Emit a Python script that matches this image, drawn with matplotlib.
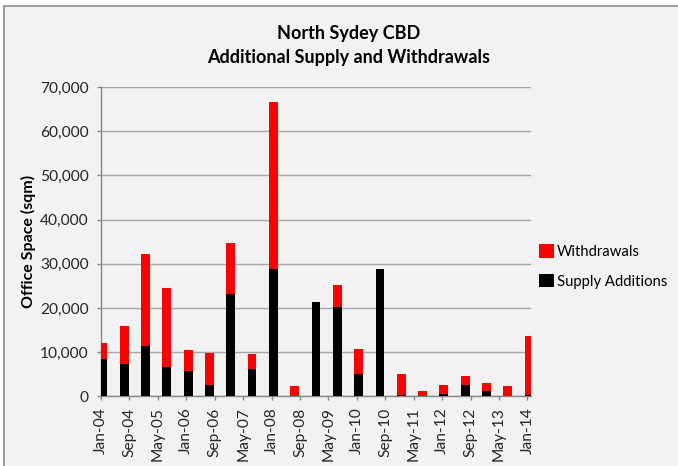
import matplotlib
matplotlib.use("Agg")
import matplotlib.pyplot as plt
from matplotlib.patches import Rectangle

# Half-yearly observations, Jan-04 .. Jan-14 (month offsets from Jan-04)
periods = ["Jan-04", "Jul-04", "Jan-05", "Jul-05", "Jan-06", "Jul-06", "Jan-07",
           "Jul-07", "Jan-08", "Jul-08", "Jan-09", "Jul-09", "Jan-10", "Jul-10",
           "Jan-11", "Jul-11", "Jan-12", "Jul-12", "Jan-13", "Jul-13", "Jan-14"]
month_offsets = [0, 6, 12, 18, 24, 30, 36, 42, 48, 54, 60, 66, 72, 78,
                 84, 90, 96, 102, 108, 114, 120]

supply_additions = [8400, 7400, 11400, 6700, 5800, 2600, 23100, 6200, 28700, 0,
                    21400, 20100, 5000, 28900, 400, 0, 500, 2600, 1300, 0, 300]
withdrawals = [3600, 8400, 20800, 17800, 4600, 7100, 11500, 3400, 37800, 2300,
               0, 5200, 5800, 0, 4600, 1300, 2100, 1900, 1600, 2300, 13300]

tick_labels = ["Jan-04", "Sep-04", "May-05", "Jan-06", "Sep-06", "May-07", "Jan-08",
               "Sep-08", "May-09", "Jan-10", "Sep-10", "May-11", "Jan-12", "Sep-12",
               "May-13", "Jan-14"]
tick_offsets = [0, 8, 16, 24, 32, 40, 48, 56, 64, 72, 80, 88, 96, 104, 112, 120]

FONT = "Lato"
BG = "#f2f2f2"
GRID = "#a6a6a6"
TICK_SIZE = 11.2

fig = plt.figure(figsize=(6.78, 4.66), dpi=100)
fig.patch.set_facecolor("white")

# chart frame (only its top and left edges fall inside the image)
frame = Rectangle((3.5 / 678, -0.2), 1.2, 1.2 - 5.5 / 466,
                  transform=fig.transFigure, facecolor=BG,
                  edgecolor="#8c8c8c", linewidth=1.2, zorder=-10)
fig.add_artist(frame)

ax = fig.add_axes([101 / 678, 1 - 396.3 / 466, 430 / 678, (396.3 - 87) / 466])
ax.set_facecolor(BG)
ax.set_zorder(1)

x = [m + 0.5 for m in month_offsets]
width = 2.5
ax.bar(x, supply_additions, width=width, color="#000000",
       label="Supply Additions", zorder=3)
ax.bar(x, withdrawals, width=width, bottom=supply_additions, color="#ff0000",
       label="Withdrawals", zorder=3)

ax.set_xlim(0, 121)
ax.set_ylim(0, 70000)
ax.set_yticks(range(0, 70001, 10000))
ax.set_yticklabels([f"{v:,}" for v in range(0, 70001, 10000)],
                   family=FONT, fontsize=TICK_SIZE, color="#262626")
ax.set_xticks(tick_offsets)
ax.set_xticklabels(tick_labels, rotation=90, family=FONT, fontsize=TICK_SIZE,
                   color="#262626")

ax.yaxis.grid(True, color=GRID, linewidth=1.0, zorder=0)
ax.set_axisbelow(True)
for side in ("top", "right"):
    ax.spines[side].set_visible(False)
for side in ("left", "bottom"):
    ax.spines[side].set_color("#868686")
    ax.spines[side].set_linewidth(1.0)
ax.tick_params(axis="both", direction="out", length=3, width=1.0,
               color="#868686")
ax.tick_params(axis="y", pad=6)
ax.tick_params(axis="x", pad=5)

ax.set_ylabel("Office Space (sqm)", family=FONT, fontweight="bold",
              fontsize=11.5, labelpad=3)

fig.text(349 / 678, 1 - 34 / 466, "North Sydey CBD", ha="center", va="center",
         family=FONT, fontweight="bold", fontsize=13)
fig.text(349 / 678, 1 - 58 / 466, "Additional Supply and Withdrawals",
         ha="center", va="center", family=FONT, fontweight="bold", fontsize=13)

handles, labels = ax.get_legend_handles_labels()
leg = fig.legend(handles[::-1], labels[::-1], loc="center left",
                 bbox_to_anchor=(539 / 678, 1 - 266.5 / 466), frameon=False,
                 prop={"family": FONT, "size": 10.7}, handlelength=1.0,
                 handleheight=1.0, handletextpad=0.2, labelspacing=1.0,
                 borderaxespad=0, borderpad=0)

fig.savefig("out.png", dpi=100, facecolor=fig.get_facecolor())
